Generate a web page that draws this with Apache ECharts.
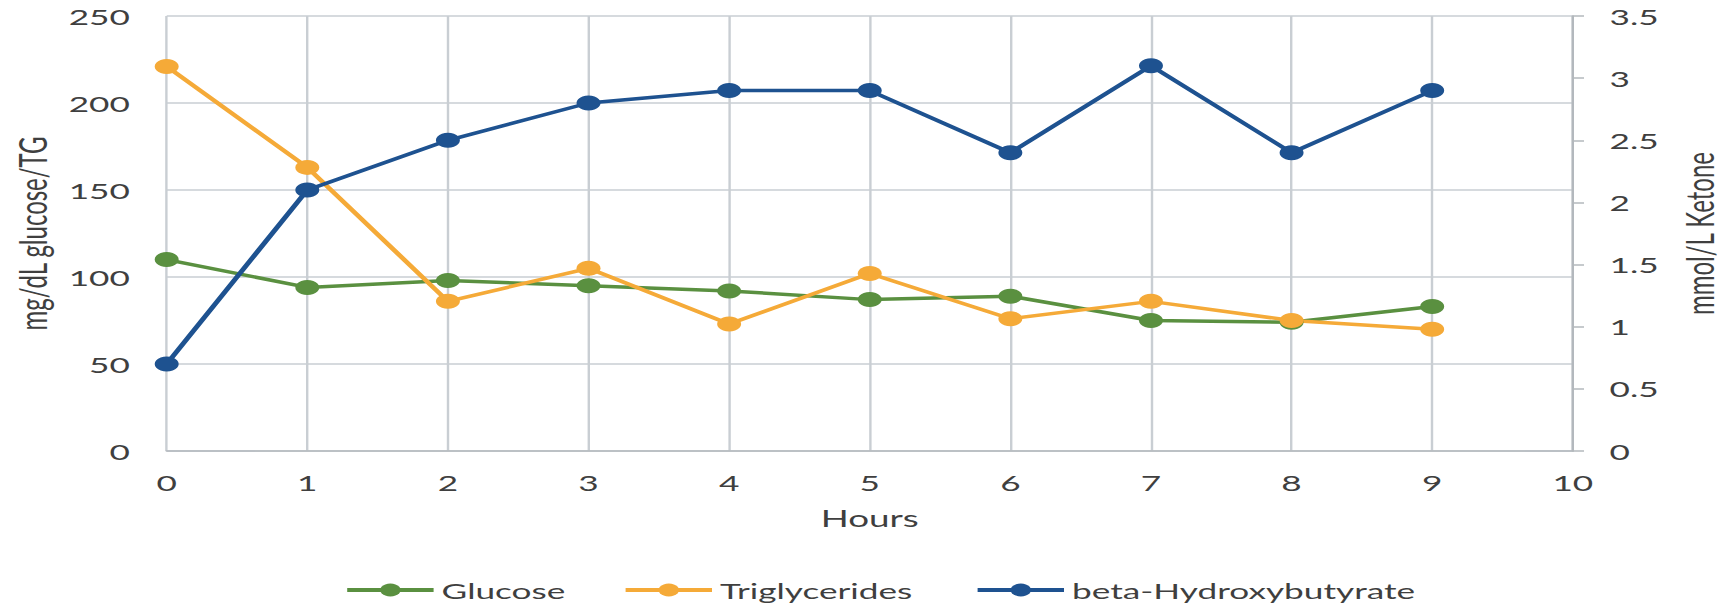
<!DOCTYPE html>
<html>
<head>
<meta charset="utf-8">
<script src="https://cdn.jsdelivr.net/npm/echarts@6/dist/echarts.min.js"></script>
<style>
  html, body { margin: 0; padding: 0; background: #ffffff; overflow: hidden; }
  #wrap { width: 1731px; height: 604px; overflow: hidden; }
  #chart { width: 1082px; height: 604px; transform: scaleX(1.6); transform-origin: 0 0; }
</style>
</head>
<body>
<div id="wrap"><div id="chart"></div></div>
<script>
// ---- data ----
const hours = [0, 1, 2, 3, 4, 5, 6, 7, 8, 9];
const glucose = [110, 94, 98, 95, 92, 87, 89, 75, 74, 83];
const triglycerides = [221, 163, 86, 105, 73, 102, 76, 86, 75, 70];
const betaHydroxybutyrate = [0.7, 2.1, 2.5, 2.8, 2.9, 2.9, 2.4, 3.1, 2.4, 2.9];
const xTicks = { min: 0, max: 10, interval: 1 };
const leftTicks = { min: 0, max: 250, interval: 50 };
const rightTicks = { min: 0, max: 3.5, interval: 0.5 };
const seriesNames = ['Glucose', 'Triglycerides', 'beta-Hydroxybutyrate'];

const FONT = 'Lato';
const TEXT = '#3f3f3f';
const GRID = '#c9ced3';
const AXIS = '#b3b8bd';
const colors = ['#5a9040', '#f5aa38', '#1e5290'];

const pairs = (ys) => hours.map((h, i) => [h, ys[i]]);

function lineSeries(name, ys, color, yAxisIndex) {
  return {
    name: name,
    type: 'line',
    yAxisIndex: yAxisIndex,
    data: pairs(ys),
    symbol: 'circle',
    symbolSize: 15,
    lineStyle: { color: color, width: 3.5 },
    itemStyle: { color: color },
    emphasis: { disabled: true }
  };
}

function legendFor(name, left) {
  return {
    data: [name],
    left: left,
    top: 574,
    itemWidth: 54,
    itemHeight: 16,
    itemGap: 0,
    lineStyle: { width: 4 },
    textStyle: { fontFamily: FONT, fontSize: 22, color: TEXT },
    selectedMode: false
  };
}

const chart = echarts.init(document.getElementById('chart'), null, { renderer: 'svg' });
chart.setOption({
  animation: false,
  backgroundColor: '#ffffff',
  grid: { left: 102, right: 94, top: 16, bottom: 153, containLabel: false },
  legend: [
    legendFor(seriesNames[0], 210),
    legendFor(seriesNames[1], 384),
    legendFor(seriesNames[2], 604)
  ],
  xAxis: {
    type: 'value',
    min: xTicks.min, max: xTicks.max, interval: xTicks.interval,
    name: 'Hours',
    nameLocation: 'middle',
    nameGap: 56,
    nameTextStyle: { fontFamily: FONT, fontSize: 23, color: TEXT },
    axisLine: { show: true, lineStyle: { color: AXIS, width: 1.5 } },
    axisTick: { show: false },
    axisLabel: { margin: 20, fontFamily: FONT, fontSize: 22, color: TEXT },
    splitLine: { show: true, lineStyle: { color: GRID, width: 1.5 } }
  },
  yAxis: [
    {
      type: 'value',
      position: 'left',
      min: leftTicks.min, max: leftTicks.max, interval: leftTicks.interval,
      name: 'mg/dL glucose/TG',
      nameLocation: 'middle',
      nameRotate: 90,
      nameGap: 66,
      nameTextStyle: { fontFamily: FONT, fontSize: 24, color: TEXT },
      axisLine: { show: false },
      axisTick: { show: false },
      axisLabel: { margin: 23, fontFamily: FONT, fontSize: 22, color: TEXT },
      splitLine: { show: true, lineStyle: { color: GRID, width: 1.5 } }
    },
    {
      type: 'value',
      position: 'right',
      min: rightTicks.min, max: rightTicks.max, interval: rightTicks.interval,
      name: 'mmol/L Ketone',
      nameLocation: 'middle',
      nameRotate: 90,
      nameGap: 67,
      nameTextStyle: { fontFamily: FONT, fontSize: 24, color: TEXT },
      axisLine: { show: true, lineStyle: { color: AXIS, width: 1.5 } },
      axisTick: { show: true, length: 7, inside: false, lineStyle: { color: AXIS, width: 1.5 } },
      axisLabel: { margin: 23, fontFamily: FONT, fontSize: 22, color: TEXT },
      splitLine: { show: false }
    }
  ],
  series: [
    lineSeries(seriesNames[0], glucose, colors[0], 0),
    lineSeries(seriesNames[1], triglycerides, colors[1], 0),
    lineSeries(seriesNames[2], betaHydroxybutyrate, colors[2], 1)
  ]
});
</script>
</body>
</html>
